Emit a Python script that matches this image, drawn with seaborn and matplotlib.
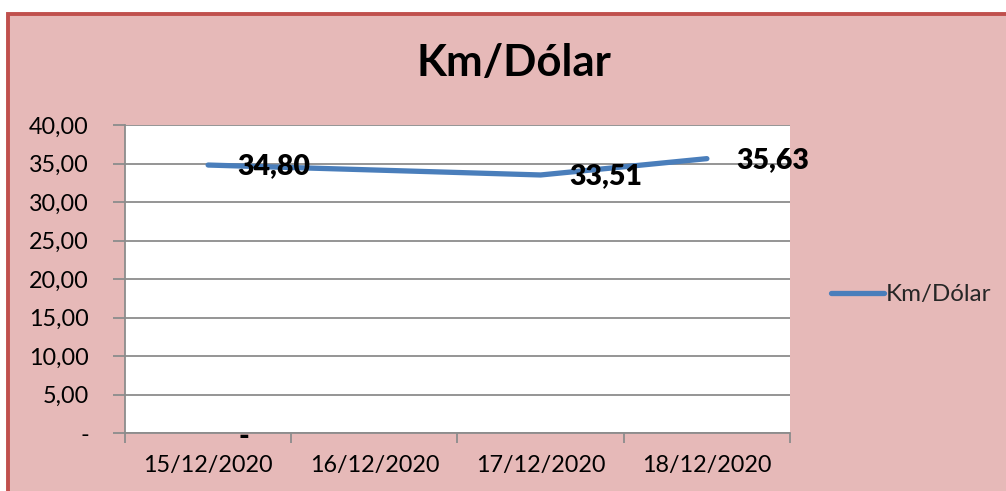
import matplotlib
matplotlib.use("Agg")
import matplotlib.pyplot as plt
import seaborn as sns
import pandas as pd
from matplotlib.patches import Rectangle
from matplotlib.ticker import FixedLocator, FuncFormatter

categories = ["15/12/2020", "16/12/2020", "17/12/2020", "18/12/2020"]
point_dates = ["15/12/2020", "17/12/2020", "18/12/2020"]
point_values = [34.80, 33.51, 35.63]
point_labels = ["34,80", "33,51", "35,63"]
extra_label_date = "15/12/2020"
extra_label_value = 0.0
extra_label_text = "-"
y_ticks = [0, 5, 10, 15, 20, 25, 30, 35, 40]
y_tick_labels = ["-", "5,00", "10,00", "15,00", "20,00", "25,00", "30,00", "35,00", "40,00"]
title = "Km/Dólar"
series_name = "Km/Dólar"

sns.set_theme(style="white")
plt.rcParams["font.family"] = ["Lato", "DejaVu Sans"]

W, H = 1006, 491
fig = plt.figure(figsize=(W / 100, H / 100), dpi=100)
fig.patch.set_facecolor("white")

pink = "#E6B9B8"
border = "#C0504D"
fig.patches.append(Rectangle((8 / W, -0.1), 1.2, (H - 13.5) / H + 0.1,
                             transform=fig.transFigure, facecolor=pink,
                             edgecolor=border, linewidth=2.8, zorder=-10))

ax = fig.add_axes([125 / W, (H - 433) / H, 665 / W, 308 / H])
ax.set_zorder(5)
ax.set_facecolor("white")

df = pd.DataFrame({
    "pos": [categories.index(d) for d in point_dates],
    "value": point_values,
    "series": series_name,
})
sns.lineplot(data=df, x="pos", y="value", hue="series", palette=["#4A7EBB"],
             linewidth=3.8, ax=ax, legend=True, solid_capstyle="round")

ax.set_xlim(-0.5, len(categories) - 0.5)
ax.set_ylim(0, 40)

fs = 16.8
grid_c = "#8C8C8C"
ax.yaxis.set_major_locator(FixedLocator(y_ticks))
ax.set_yticklabels(y_tick_labels)
ax.yaxis.grid(True, color=grid_c, linewidth=1.3)
ax.set_axisbelow(True)

ax.xaxis.set_major_locator(FixedLocator([i - 0.5 for i in range(len(categories) + 1)]))
ax.xaxis.set_major_formatter(FuncFormatter(lambda v, p: ""))
ax.xaxis.set_minor_locator(FixedLocator(list(range(len(categories)))))
ax.set_xticklabels(categories, minor=True)
ax.tick_params(axis="x", which="major", length=7, width=1.3, color=grid_c, direction="out", bottom=True)
ax.tick_params(axis="x", which="minor", length=0, pad=16, labelsize=fs, labelcolor="black")
ax.tick_params(axis="y", which="major", length=9, width=1.3, color=grid_c, direction="out", left=True,
               pad=17, labelsize=fs, labelcolor="black")

for s in ["top", "right"]:
    ax.spines[s].set_visible(False)
for s in ["left", "bottom"]:
    ax.spines[s].set_color(grid_c)
    ax.spines[s].set_linewidth(1.3)

ax.set_xlabel("")
ax.set_ylabel("")

for d, v, t in zip(point_dates, point_values, point_labels):
    ax.annotate(t, (categories.index(d), v), xytext=(21, -1), textcoords="offset points",
                ha="left", va="center", fontsize=20.5, fontweight="heavy", color="black")
ax.annotate(extra_label_text, (categories.index(extra_label_date), extra_label_value), xytext=(22, -3),
            textcoords="offset points", ha="left", va="center", fontsize=20.5, fontweight="heavy",
            color="black", annotation_clip=False)

fig.text(514 / W, 1 - 63 / H, title, ha="center", va="center", fontsize=31.5, fontweight="bold", color="black")

leg = ax.legend(loc="center left", bbox_to_anchor=(821 / W, 1 - 295 / H), bbox_transform=fig.transFigure,
                frameon=False, handlelength=2.2, handletextpad=0.1, fontsize=fs + 0.6, borderaxespad=0)
for line in leg.get_lines():
    line.set_linewidth(3.8)
    line.set_solid_capstyle("round")

fig.savefig("out.png", dpi=100, facecolor=fig.get_facecolor())
